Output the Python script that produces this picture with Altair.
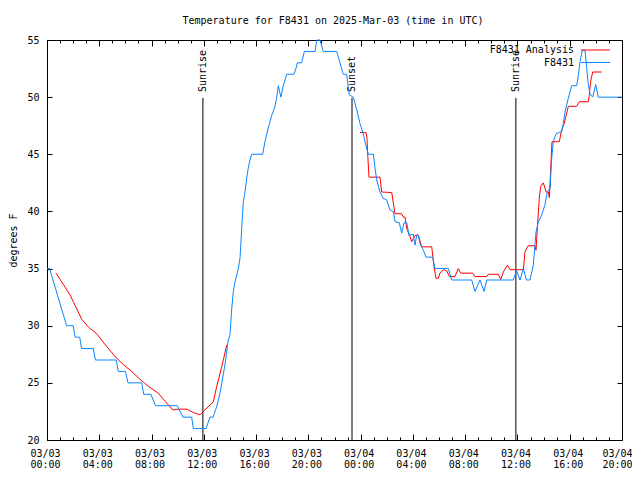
import altair as alt
import pandas as pd

# ---------------- data (hours since 03/03 00:00 UTC, degrees F) ----------------
blue_hours = [0.0, 0.2, 1.5, 2.0, 2.15, 2.5, 2.65, 3.55, 3.7, 5.3, 5.45, 6.0, 6.2, 7.25, 7.4, 7.95,
              8.3, 9.97, 10.4, 11.07, 11.2, 12.17, 12.47, 12.7, 12.98, 13.24, 13.62, 13.87, 14.0,
              14.13, 14.26, 14.39, 14.64, 14.77, 14.9, 15.02, 15.15, 15.28, 15.4, 15.53, 15.66,
              16.5, 16.68, 16.93, 17.19, 17.45, 17.58, 17.7, 17.9, 18.08, 18.34, 18.9, 19.05,
              19.15, 19.49, 19.69, 20.51, 20.64, 20.89, 21.14, 22.17, 22.67, 22.93, 23.13, 23.44,
              23.7, 23.95, 24.2, 24.33, 24.59, 24.97, 25.1, 25.23, 25.48, 25.73, 25.99, 26.25,
              26.5, 26.63, 26.96, 27.14, 27.32, 27.53, 27.7, 28.03, 28.16, 28.29, 28.41, 28.54,
              28.8, 29.0, 29.51, 29.69, 30.71, 30.97, 32.5, 32.75, 33.13, 33.44, 33.65, 35.68,
              35.94, 36.2, 36.45, 36.69, 36.96, 37.21, 37.42, 37.6, 37.86, 38.11, 38.28, 38.49,
              38.62, 38.74, 38.95, 39.39, 39.51, 39.64, 39.89, 40.15, 40.53, 40.66, 40.79, 40.96,
              41.17, 41.3, 41.42, 41.55, 41.76, 41.99, 42.19, 44.0]
blue_temps = [35, 35, 30, 30, 29, 29, 28, 28, 27, 27, 26, 26, 25, 25, 24, 24,
              23, 23, 22, 22, 21, 21, 22, 22, 22.9, 24.1, 26.6, 28.75, 29.2,
              31.4, 33.0, 33.85, 35.0, 35.9, 38.5, 40.85, 41.7, 42.9, 43.8, 44.5, 45,
              45, 46.1, 47.3, 48.4, 49.2, 50.0, 51.0, 50.0, 51.0, 52.0, 52.0, 52.5,
              53.0, 53.0, 54.0, 54.0, 55.0, 55.0, 54.0, 54.0, 52.0, 52.0, 50.2, 50.0,
              48.9, 47.7, 46.8, 46.1, 45.0, 45.0, 43.8, 42.75, 41.7, 41.15, 41.0, 40.1,
              40.0, 39.1, 39.0, 38.1, 39.0, 39.0, 37.9, 38.0, 37.05, 37.9, 37.9, 37.2,
              36.6, 36.0, 36.0, 35.0, 35.0, 34.0, 34.0, 33.0, 34.0, 33.0, 34.0, 34.0,
              34.8, 34.0, 35.0, 34.0, 34.0, 35.3, 38.2, 39.1, 39.7, 40.6, 41.7, 42.0,
              44.65, 46.1, 46.8, 47.0, 47.7, 48.7, 49.9, 51.0, 51.0, 51.9, 53.1, 54.1,
              54.1, 52.5, 51.1, 50.3, 50.0, 51.1, 50.0, 50.0]

# None marks the gap in the analysis series
red_hours = [0.69, 1.76, 2.66, 3.16, 3.8, 4.57, 5.33, 5.84, 6.48, 7.12, 7.75, 8.52, 9.03, 9.62,
             10.05, 10.69, 11.2, 11.71, 11.96, 12.73, 12.99, 13.37, 13.75,
             None,
             23.95, 24.41, 24.48, 24.55, 24.64, 25.48, 25.61, 26.38, 26.63, 27.14, 27.26, 27.4,
             27.53, 27.78, 27.91, 28.16, 28.41, 28.67, 29.44, 29.61, 29.77, 29.94, 30.07, 30.33,
             30.59, 30.79, 31.22, 31.47, 31.66, 32.58, 32.75, 33.65, 33.77, 34.54, 34.72, 34.92,
             35.23, 35.43, 36.45, 36.58, 36.83, 37.34, 37.42, 37.52, 37.67, 37.78, 37.98, 38.19,
             38.36, 38.44, 38.54, 38.64, 39.2, 39.38, 39.58, 39.77, 39.89, 40.53, 40.73, 41.42,
             41.5, 41.6, 41.76, 42.45]
red_temps = [34.6, 32.7, 30.56, 29.9, 29.3, 28.17, 27.15, 26.6, 26.0, 25.3, 24.7, 24.1, 23.4, 22.63,
             22.7, 22.7, 22.4, 22.2, 22.5, 23.35, 24.7, 26.4, 28.3,
             None,
             46.9, 46.9, 46.5, 44.8, 43.0, 43.0, 41.7, 41.65, 39.8, 39.8, 39.5, 39.5,
             38.5, 37.8, 37.35, 37.9, 37.95, 36.9, 36.9, 35.2, 34.15, 34.15, 34.6, 34.9,
             34.8, 34.3, 34.3, 35.0, 34.6, 34.6, 34.3, 34.3, 34.5, 34.5, 34.05, 34.7,
             35.3, 34.9, 34.9, 36.5, 37.0, 37.0, 36.6, 38.5, 41.15, 42.2, 42.5, 41.7,
             41.7, 41.2, 43.6, 46.1, 46.1, 47.1, 47.7, 48.6, 49.2, 49.2, 49.6, 49.6,
             50.2, 51.4, 52.2, 52.2]

sun_hours = [11.93, 23.34, 35.88]
sun_labels = ["Sunrise", "Sunset", "Sunrise"]
series_names = ["F8431 Analysis", "F8431"]
chart_title = "Temperature for F8431 on 2025-Mar-03 (time in UTC)"
y_title = "degrees F"
major_ticks = list(range(0, 45, 4))
minor_ticks = list(range(0, 45))
y_ticks = list(range(20, 56, 5))

# ---------------- tables ----------------
blue_df = pd.DataFrame({"hour": blue_hours, "temp": blue_temps})

seg, rows = 0, []
for h, t in zip(red_hours, red_temps):
    if h is None or t is None:
        seg += 1
        continue
    rows.append({"hour": h, "temp": t, "seg": seg})
red_df = pd.DataFrame(rows)

sun_df = pd.DataFrame({"hour": sun_hours, "label": sun_labels})
sun_df["top"] = 49.93
sun_df["bottom"] = 20.0
sun_df["label_y"] = 50.45

# ---------------- styling ----------------
W, H = 575, 400
FONT = "DejaVu Sans Mono"
BLUE = "#0a84ff"
RED = "#ff0000"

xs = alt.Scale(domain=[0, 44], nice=False, zero=False)
ys = alt.Scale(domain=[20, 55], nice=False, zero=False)

label_expr = ("['03/0' + (3 + floor(datum.value / 24)), "
              "((datum.value % 24) < 10 ? '0' : '') + (datum.value % 24) + ':00']")

common = dict(grid=False, title=None, tickColor="black", domainColor="black",
              tickWidth=1, domainWidth=1)

ax_x_labels = alt.Axis(orient="bottom", values=major_ticks, labelExpr=label_expr, ticks=False,
                       domain=True, labelFont=FONT, labelFontSize=10, labelColor="black",
                       labelPadding=8, labelLineHeight=11,
                       labelAlign={"condition": {"test": "datum.value >= 44", "value": "right"},
                                   "value": "center"},
                       labelOffset={"condition": {"test": "datum.value >= 44", "value": 10},
                                    "value": -2},
                       labelFlush=False, labelOverlap=False, **common)
ax_x_bot_major = alt.Axis(orient="top", offset=-H, values=major_ticks, labels=False, ticks=True,
                          tickSize=6, domain=False, **common)
ax_x_top_major = alt.Axis(orient="bottom", offset=-H, values=major_ticks, labels=False, ticks=True,
                          tickSize=6, domain=True, **common)
ax_x_bot_minor = alt.Axis(orient="top", offset=-H, values=minor_ticks, labels=False, ticks=True,
                          tickSize=3, domain=False, **common)
ax_x_top_minor = alt.Axis(orient="bottom", offset=-H, values=minor_ticks, labels=False, ticks=True,
                          tickSize=3, domain=False, **common)

ax_y_labels = alt.Axis(orient="left", values=y_ticks, ticks=False, domain=True,
                       labelFont=FONT, labelFontSize=10, labelColor="black", labelPadding=8,
                       labelFlush=False, labelOverlap=False,
                       grid=False, title=y_title, titleFont=FONT, titleFontSize=10,
                       titleFontWeight="normal", titleColor="black", titlePadding=8,
                       tickColor="black", domainColor="black", domainWidth=1)
ax_y_left_ticks = alt.Axis(orient="right", offset=-W, values=y_ticks, labels=False, ticks=True,
                           tickSize=5, domain=False, **common)
ax_y_right = alt.Axis(orient="left", offset=-W, values=y_ticks, labels=False, ticks=True,
                      tickSize=5, domain=True, **common)

blue_line = alt.Chart(blue_df).mark_line(color=BLUE, strokeWidth=1, strokeJoin="bevel").encode(
    x=alt.X("hour:Q", scale=xs, axis=ax_x_labels),
    y=alt.Y("temp:Q", scale=ys, axis=ax_y_labels),
)

red_line = alt.Chart(red_df).mark_line(color=RED, strokeWidth=1, strokeJoin="bevel").encode(
    x=alt.X("hour:Q", scale=xs, axis=ax_x_bot_major),
    y=alt.Y("temp:Q", scale=ys, axis=ax_y_left_ticks),
    detail="seg:N",
)

sun_rules = alt.Chart(sun_df).mark_rule(color="black", strokeWidth=1).encode(
    x=alt.X("hour:Q", scale=xs, axis=ax_x_top_major),
    y=alt.Y("top:Q", scale=ys, axis=ax_y_right),
    y2="bottom:Q",
)

sun_text = alt.Chart(sun_df).mark_text(
    angle=270, align="left", baseline="middle", font=FONT, fontSize=10, color="black"
).encode(
    x=alt.X("hour:Q", scale=xs, axis=ax_x_bot_minor),
    y=alt.Y("label_y:Q", scale=ys, axis=None),
    text="label:N",
)

tick_carrier = alt.Chart(sun_df).mark_rule(opacity=0).encode(
    x=alt.X("hour:Q", scale=xs, axis=ax_x_top_minor),
    y=alt.Y("top:Q", scale=ys, axis=None),
    y2="bottom:Q",
)

title_layer = alt.Chart(alt.Data(values=[{"t": chart_title}])).mark_text(
    align="center", baseline="alphabetic", font=FONT, fontSize=10, color="black"
).encode(x=alt.value(286), y=alt.value(-16), text="t:N")

legend_layers = []
for name, color, ly in [(series_names[0], RED, 10), (series_names[1], BLUE, 22.5)]:
    src = alt.Data(values=[{"name": name}])
    legend_layers.append(
        alt.Chart(src).mark_text(align="right", baseline="middle", font=FONT, fontSize=10,
                                 color="black").encode(
            x=alt.value(527), y=alt.value(ly), text="name:N")
    )
    legend_layers.append(
        alt.Chart(src).mark_rule(color=color, strokeWidth=1).encode(
            x=alt.value(534), x2=alt.value(563), y=alt.value(ly))
    )

chart = alt.layer(
    sun_rules, sun_text, tick_carrier, red_line, blue_line, title_layer, *legend_layers
).resolve_axis(
    x="independent", y="independent"
).properties(
    width=W, height=H,
    autosize=alt.AutoSizeParams(type="none"),
    padding={"left": 39, "top": 32, "right": 10, "bottom": 30},
).configure_view(stroke=None).configure(background="white")

chart.save("out.html", embed_options={"renderer": "svg", "actions": False})
